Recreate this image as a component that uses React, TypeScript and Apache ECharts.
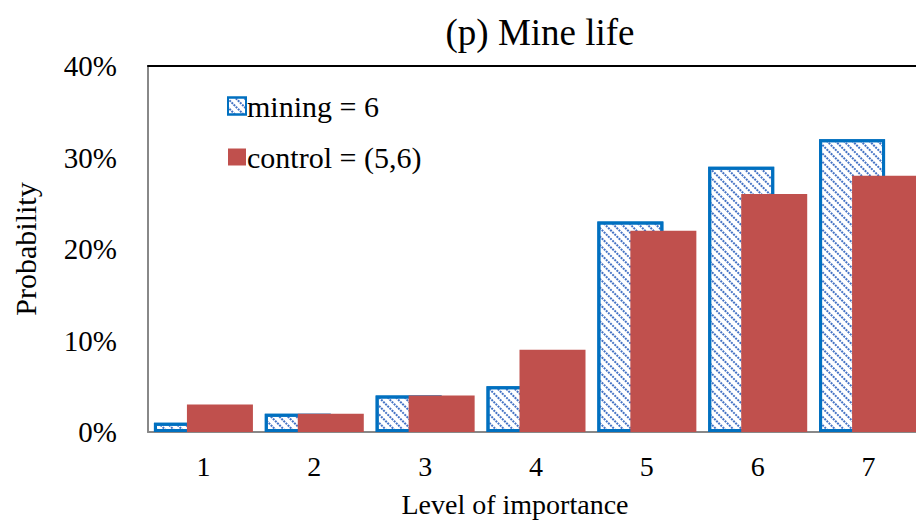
import React, { useEffect, useRef } from "react";
import * as echarts from "echarts";

const categories = ["1", "2", "3", "4", "5", "6", "7"];
const miningValues = [1, 2, 4, 5, 23, 29, 32];
const controlValues = [3, 2, 4, 9, 22, 26, 28];
const yTicks = [0, 10, 20, 30, 40];

const FONT = "Liberation Serif, Times New Roman, serif";

export default function App() {
  const ref = useRef<HTMLDivElement>(null);
  useEffect(() => {
    if (!ref.current) return;
    const chart = echarts.init(ref.current, null, { renderer: "svg" });
    chart.setOption({
      animation: false,
      backgroundColor: "#fff",
      title: {
        text: "(p) Mine life",
        left: 535,
        top: 9,
        textAlign: "center",
        textStyle: { fontFamily: FONT, fontSize: 37, fontWeight: "normal", color: "#000" },
      },
      legend: {
        orient: "vertical",
        left: 222,
        top: 86,
        itemGap: 21,
        itemWidth: 18,
        itemHeight: 17,
        textStyle: { fontFamily: FONT, fontSize: 30, color: "#000", padding: [0, 0, 0, -4] },
        data: [
          { name: "mining = 6", icon: "rect" },
          { name: "control = (5,6)", icon: "rect" },
        ],
      },
      grid: { left: 148, top: 66, width: 787, height: 366 },
      xAxis: [
        {
          type: "category",
          data: categories,
          axisTick: { show: false },
          axisLine: { lineStyle: { color: "#888", width: 2 } },
          axisLabel: { fontFamily: FONT, fontSize: 28, color: "#000", margin: 20 },
          name: "Level of importance",
          nameLocation: "middle",
          nameGap: 58,
          nameTextStyle: { fontFamily: FONT, fontSize: 28, color: "#000", padding: [0, 42, 0, 0] },
        },
        {
          type: "category",
          position: "top",
          data: categories,
          axisTick: { show: false },
          axisLabel: { show: false },
          axisLine: { lineStyle: { color: "#000", width: 2 } },
        },
      ],
      yAxis: {
        type: "value",
        min: yTicks[0],
        max: yTicks[yTicks.length - 1],
        interval: 10,
        splitLine: { show: false },
        axisLine: { show: true, lineStyle: { color: "#888", width: 2 } },
        axisTick: { show: false },
        axisLabel: { fontFamily: FONT, fontSize: 29, color: "#000", margin: 31, formatter: "{value}%" },
        name: "Probability",
        nameLocation: "middle",
        nameGap: 108,
        nameTextStyle: { fontFamily: FONT, fontSize: 30, color: "#000" },
      },
      series: [
        {
          name: "mining = 6",
          type: "bar",
          data: miningValues,
          barWidth: 66,
          barGap: "-50%",
          itemStyle: {
            color: "#ffffff",
            borderColor: "#0070C0",
            borderWidth: 3,
            decal: {
              symbol: "rect",
              color: "#4472C4",
              backgroundColor: "#ffffff",
              dashArrayX: [2, 1],
              dashArrayY: [1.2, 3.5],
              rotation: Math.PI / 4,
            },
          },
        },
        {
          name: "control = (5,6)",
          type: "bar",
          data: controlValues,
          barWidth: 66,
          barGap: "-50%",
          itemStyle: { color: "#C0504D" },
        },
      ],
    });
    return () => chart.dispose();
  }, []);
  return <div ref={ref} style={{ width: 924, height: 529, margin: -8 }} />;
}
